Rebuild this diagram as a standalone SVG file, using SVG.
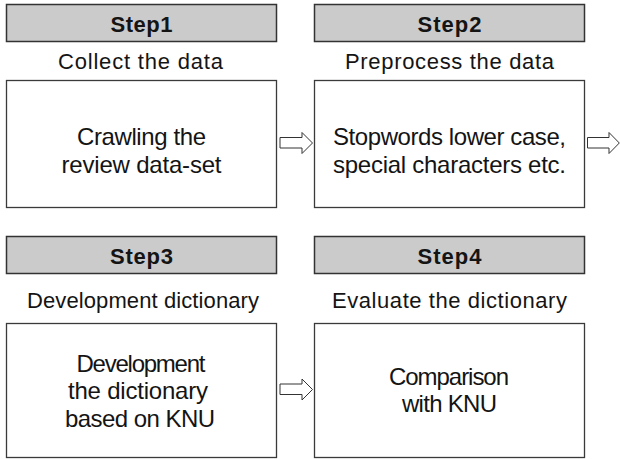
<svg xmlns="http://www.w3.org/2000/svg" width="620" height="459" viewBox="0 0 620 459">
  <style>
    .hdr { fill: #cbcbcb; stroke: #333333; stroke-width: 1.5; }
    .box { fill: #ffffff; stroke: #3a3a3a; stroke-width: 1.3; }
    .arrow { fill: #ffffff; stroke: #333333; stroke-width: 1; stroke-linejoin: miter; }
    text { font-family: "Liberation Sans", Arial, sans-serif; fill: #141414; text-anchor: middle; }
    .step { font-size: 22px; font-weight: bold; }
    .lbl { font-size: 22px; }
    .body { font-size: 24px; }
  </style>
  <rect width="620" height="459" fill="#ffffff"/>

  <!-- Step 1 -->
  <g id="step1">
    <rect class="hdr" x="6.5" y="4.5" width="270" height="37"/>
    <text class="step" x="141.5" y="32" textLength="62" lengthAdjust="spacing">Step1</text>
    <text class="lbl" x="140.5" y="69" textLength="165" lengthAdjust="spacing">Collect the data</text>
    <rect class="box" x="6.5" y="80.5" width="270" height="127"/>
    <text class="body" x="141.5" y="145" textLength="129" lengthAdjust="spacing">Crawling the</text>
    <text class="body" x="141.5" y="173" textLength="160" lengthAdjust="spacing">review data-set</text>
  </g>

  <!-- Step 2 -->
  <g id="step2">
    <rect class="hdr" x="314.5" y="4.5" width="270" height="37"/>
    <text class="step" x="449.5" y="32" textLength="64" lengthAdjust="spacing">Step2</text>
    <text class="lbl" x="449.5" y="69" textLength="209" lengthAdjust="spacing">Preprocess the data</text>
    <rect class="box" x="314.5" y="80.5" width="270" height="127"/>
    <text class="body" x="449.5" y="145" textLength="233" lengthAdjust="spacing">Stopwords lower case,</text>
    <text class="body" x="449.5" y="173" textLength="233" lengthAdjust="spacing">special characters etc.</text>
  </g>

  <!-- Step 3 -->
  <g id="step3">
    <rect class="hdr" x="6.5" y="236.5" width="270" height="37"/>
    <text class="step" x="141.5" y="264" textLength="63" lengthAdjust="spacing">Step3</text>
    <text class="lbl" x="143" y="307.5" textLength="232" lengthAdjust="spacing">Development dictionary</text>
    <rect class="box" x="6.5" y="323.5" width="270" height="134"/>
    <text class="body" x="141" y="371.5" textLength="129" lengthAdjust="spacing">Development</text>
    <text class="body" x="138" y="399" textLength="140" lengthAdjust="spacing">the dictionary</text>
    <text class="body" x="140" y="426.5" textLength="150" lengthAdjust="spacing">based on KNU</text>
  </g>

  <!-- Step 4 -->
  <g id="step4">
    <rect class="hdr" x="314.5" y="236.5" width="270" height="37"/>
    <text class="step" x="449.5" y="264" textLength="64" lengthAdjust="spacing">Step4</text>
    <text class="lbl" x="449.5" y="307.5" textLength="235" lengthAdjust="spacing">Evaluate the dictionary</text>
    <rect class="box" x="314.5" y="323.5" width="270" height="134"/>
    <text class="body" x="449" y="385" textLength="120" lengthAdjust="spacing">Comparison</text>
    <text class="body" x="449.5" y="412" textLength="95" lengthAdjust="spacing">with KNU</text>
  </g>

  <!-- hollow block arrows between steps -->
  <g id="connectors">
    <path class="arrow" d="M280,137.5 H302 V132.5 L312.5,143 L302,153.5 V148 H280 Z"/>
    <path class="arrow" d="M587.5,137.5 H609 V132.5 L619.3,143 L609,153.5 V148 H587.5 Z"/>
    <path class="arrow" d="M280,384 H302 V379 L312.5,389.5 L302,400 V394.5 H280 Z"/>
  </g>
</svg>
